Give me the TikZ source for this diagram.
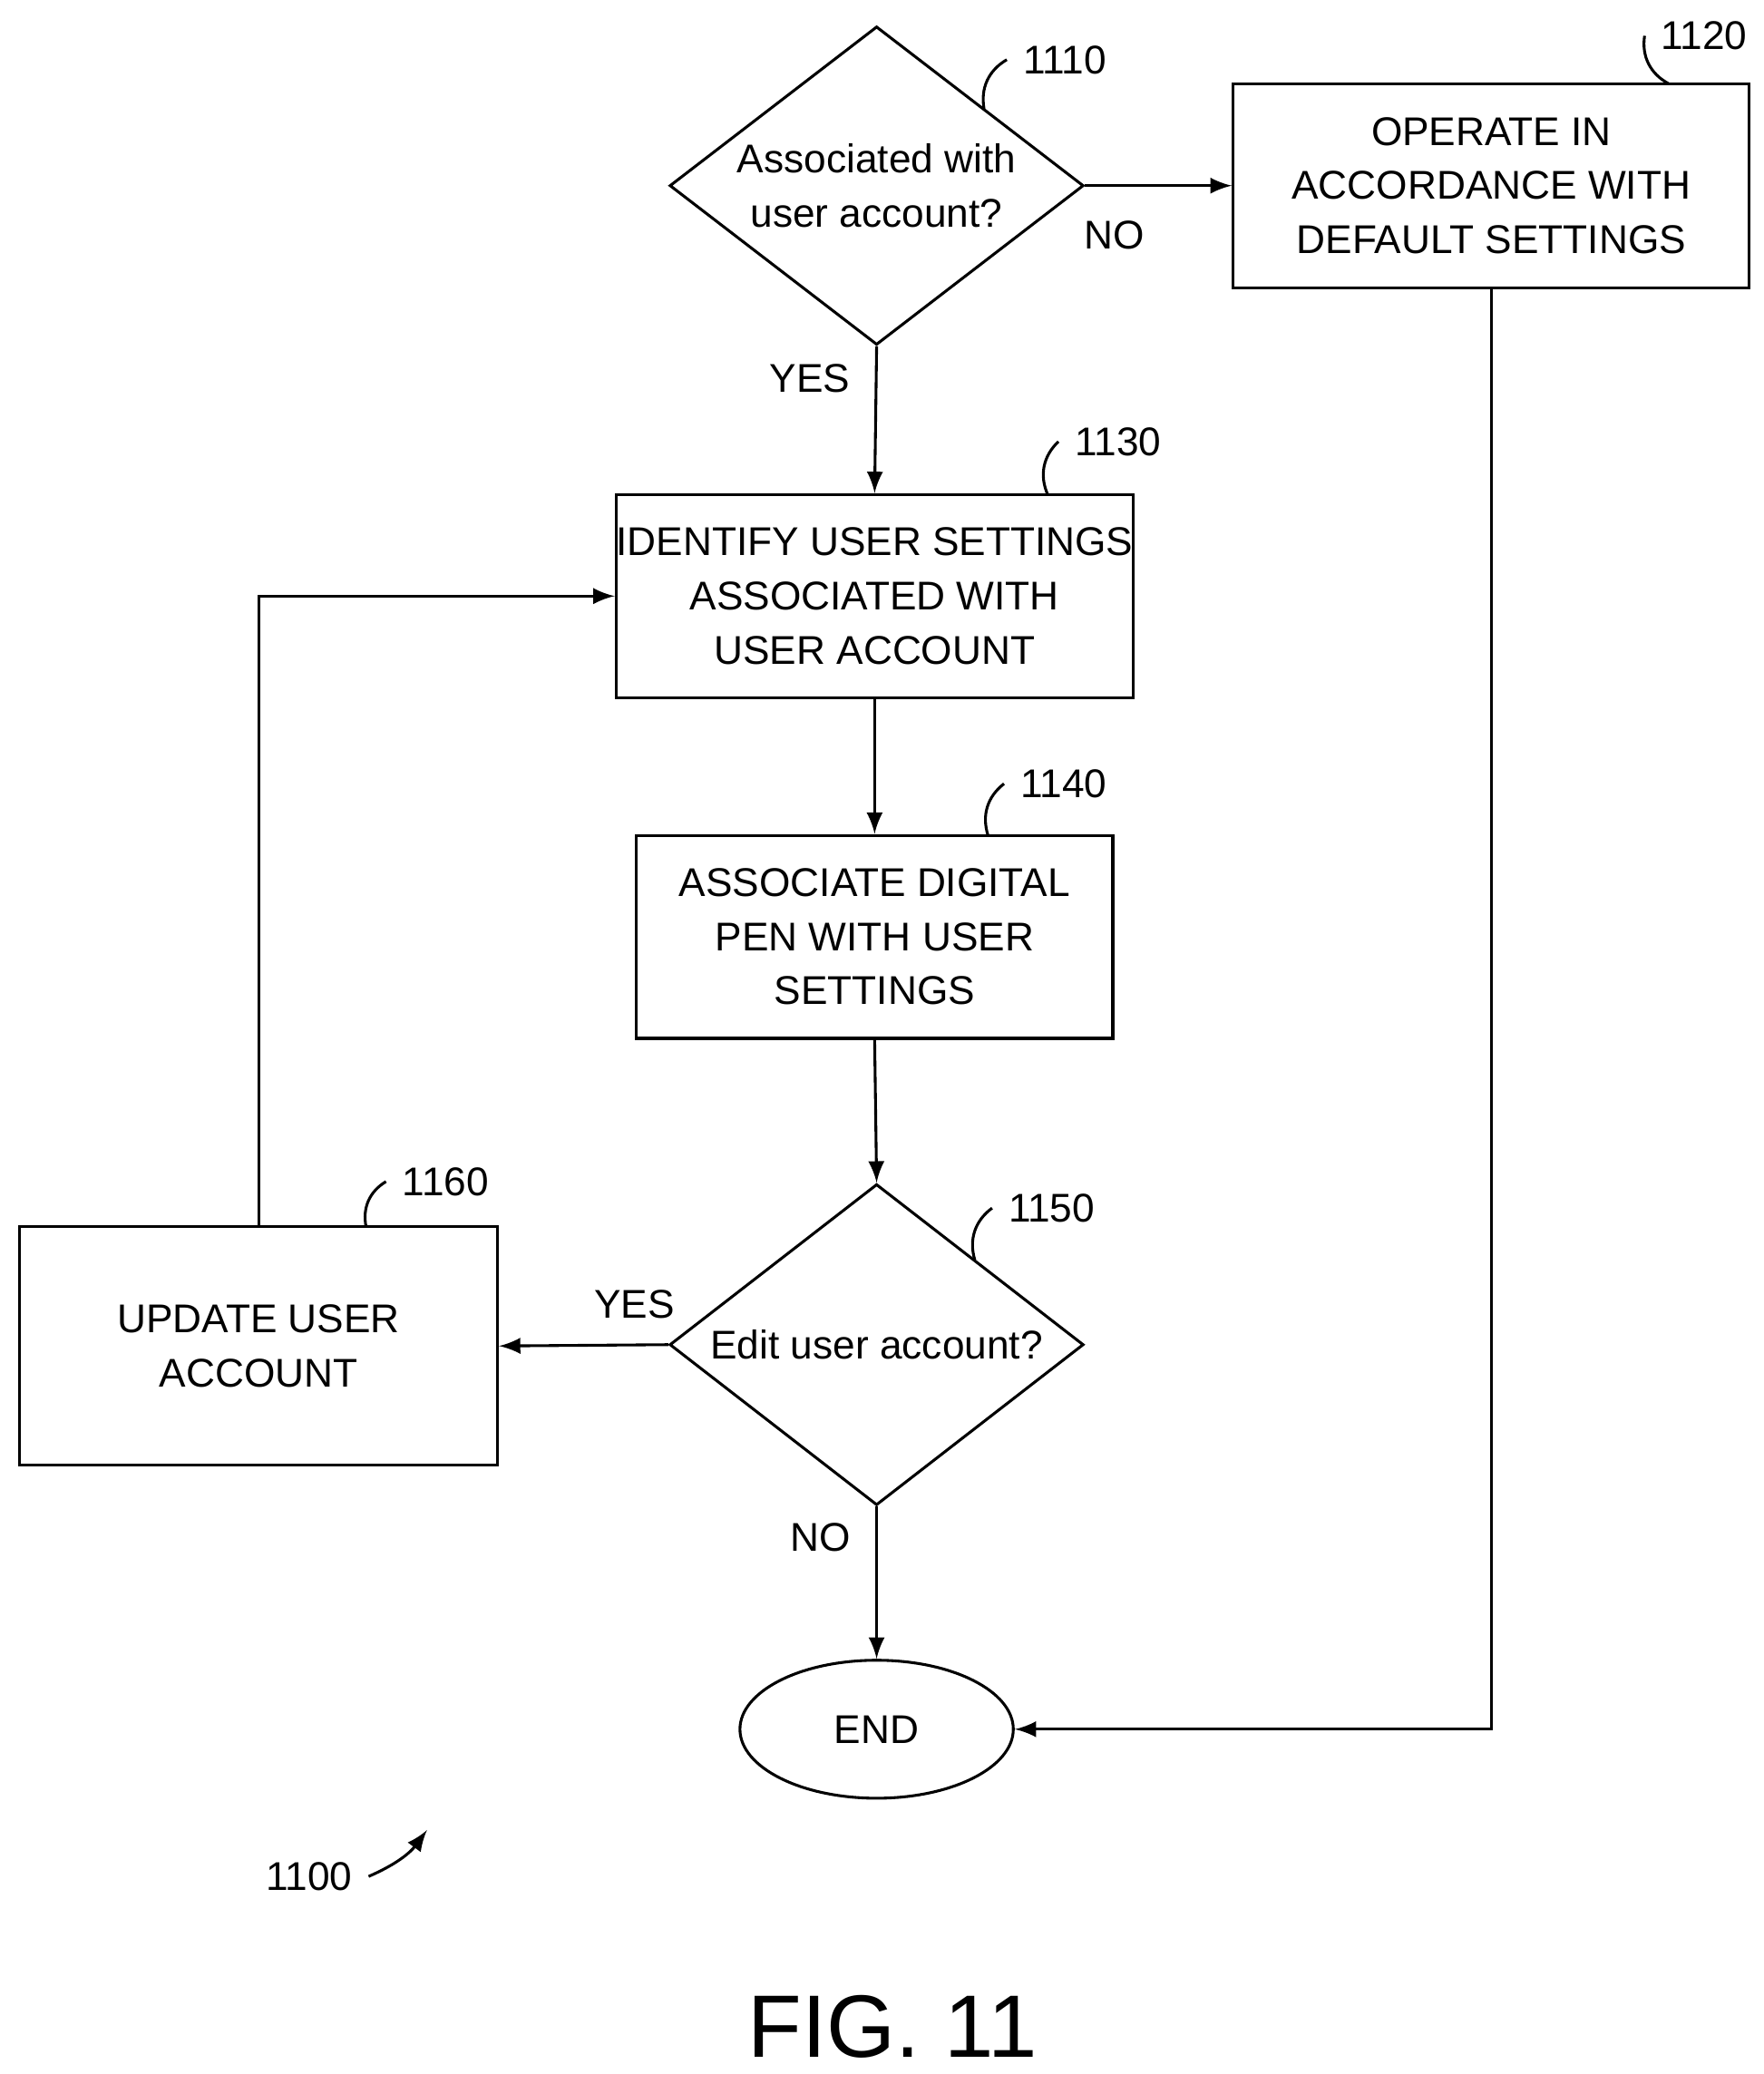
\documentclass[tikz,border=0pt]{standalone}
\usepackage{fontspec}
\setmainfont{Liberation Sans}
\usetikzlibrary{shapes.geometric,positioning}

\begin{document}
\begin{tikzpicture}[x=0.01cm,y=-0.01cm,
  every node/.style={font=\fontsize{8.6pt}{11.6pt}\selectfont},
  proc/.style={draw,semithick,align=center,inner sep=0pt},
  decide/.style={draw,semithick,diamond,inner sep=0pt,minimum width=3.12cm,minimum height=2.4cm},
  flow/.style={semithick,-latex},
  lead/.style={semithick}]
	\useasboundingbox (0,0) rectangle (1330,1564);
	%steps
	\node[decide] (assoc) at (661,140) {};
	\node[align=center] (assoct) at (assoc) {Associated with\\user account?};
	\node[proc,minimum width=3.89cm,minimum height=1.54cm] (dflt) at (1124.5,140) {OPERATE IN\\ACCORDANCE WITH\\DEFAULT SETTINGS};
	\node[proc,minimum width=3.89cm,minimum height=1.53cm] (ident) at (659.5,449.5) {IDENTIFY USER SETTINGS\\ASSOCIATED WITH\\USER ACCOUNT};
	\node[proc,minimum width=3.59cm,minimum height=1.53cm] (pen) at (659.5,706.5) {ASSOCIATE DIGITAL\\PEN WITH USER\\SETTINGS};
	\node[decide,minimum height=2.42cm] (edit) at (661,1014) {};
	\node (editt) at (edit) {Edit user account?};
	\node[proc,minimum width=3.6cm,minimum height=1.8cm] (upd) at (195,1015) {UPDATE USER\\ACCOUNT};
	\node[draw,semithick,ellipse,minimum width=2.06cm,minimum height=1.04cm] (end) at (661,1304) {END};
	%connectors
	\draw[flow] (assoc.east) -- node[below=4pt,pos=0.2] (no1) {NO} (dflt.west);
	\draw[flow] (assoc.south) -- node[left=2pt,pos=0.22] (yes1) {YES} (ident.north);
	\draw[flow] (ident.south) -- (pen.north);
	\draw[flow] (pen.south) -- (edit.north);
	\draw[flow] (edit.west) -- node[above=2pt,pos=0.2] (yes2) {YES} (upd.east);
	\draw[flow] (edit.south) -- node[left=2pt,pos=0.2] (no2) {NO} (end.north);
	\draw[flow] (dflt.south) |- (end.east);
	\draw[flow] (upd.north) |- (ident.west);
	%reference numbers
	\node (n1110) at (803,45) {1110};
	\node (n1120) at (1285,27) {1120};
	\node (n1130) at (843,333) {1130};
	\node (n1140) at (802,591) {1140};
	\node (n1150) at (793,911) {1150};
	\node (n1160) at (336,891) {1160};
	\draw[lead] (742,82) to[bend left=35] (n1110.west);
	\draw[lead] (1258,63) to[bend left=35] (n1120.west);
	\draw[lead] (790,373) to[bend left=35] (n1130.west);
	\draw[lead] (745,630) to[bend left=35] (n1140.west);
	\draw[lead] (735,950) to[bend left=35] (n1150.west);
	\draw[lead] (276,925) to[bend left=35] (n1160.west);
	\node (n1100) at (233,1415) {1100};
	\draw[semithick,-latex] (n1100.east) to[bend right=15] (322,1380);
	\node[font=\fontsize{19pt}{24pt}\selectfont] (fig) at (673,1528) {FIG. 11};
\end{tikzpicture}
\end{document}
